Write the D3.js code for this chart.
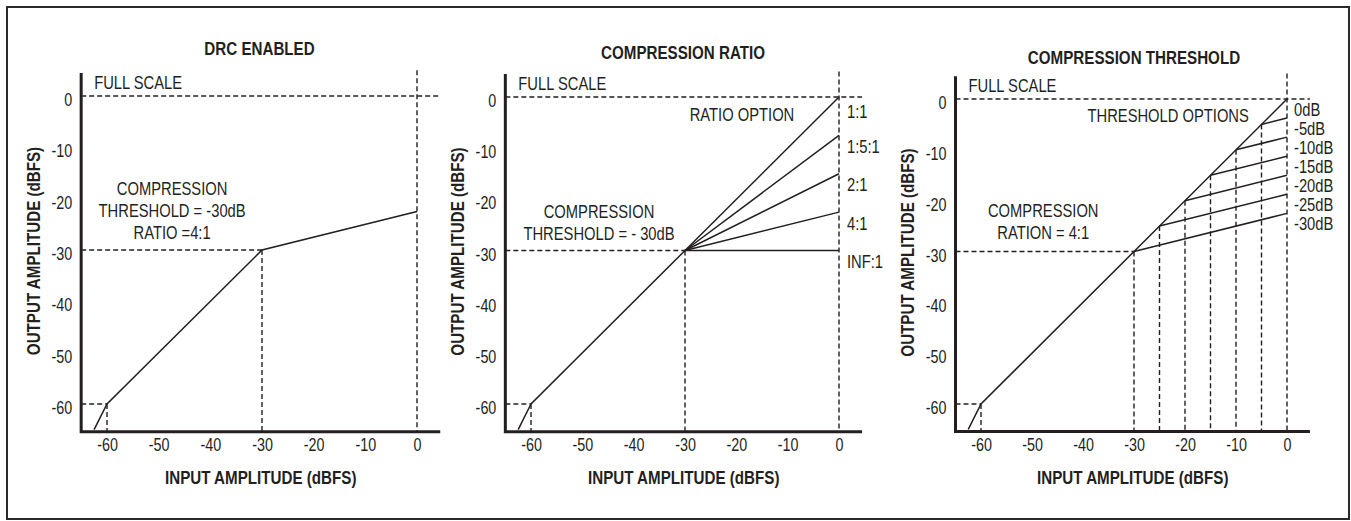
<!DOCTYPE html>
<html>
<head>
<meta charset="utf-8">
<script src="https://cdn.jsdelivr.net/npm/d3@7"></script>
<style>
  html, body { margin: 0; padding: 0; background: #fff; }
  svg { display: block; }
  text { font-family: "Liberation Sans Narrow", "Arial Narrow", "Liberation Sans", Arial, sans-serif; fill: #231f20; }
  .bold { font-weight: bold; }
</style>
</head>
<body>
<svg id="chart" width="1351" height="521"></svg>
<script>
// ---------------- DATA ----------------
const xTickValues = [-60, -50, -40, -30, -20, -10, 0];
const yTickValues = [0, -10, -20, -30, -40, -50, -60];

const panelTitles = ["DRC ENABLED", "COMPRESSION RATIO", "COMPRESSION THRESHOLD"];
const xAxisTitle = "INPUT AMPLITUDE (dBFS)";
const yAxisTitle = "OUTPUT AMPLITUDE (dBFS)";
const fullScaleLabel = "FULL SCALE";

// Panel 1: DRC transfer curve (input, output)
const drcInput  = [-62.5, -60, -30, 0];
const drcOutput = [-65,   -60, -30, -22.5];
const drcNote = ["COMPRESSION", "THRESHOLD = -30dB", "RATIO =4:1"];

// Panel 2: compression ratio options (all knee at -30 dB)
const ratioThreshold = -30;
const ratioLabels = ["1:1", "1:5:1", "2:1", "4:1", "INF:1"];
const ratioEndOutput = [0, -7.5, -15, -22.5, -30];
const ratioNote = ["COMPRESSION", "THRESHOLD = - 30dB"];
const ratioHeader = "RATIO OPTION";

// Panel 3: threshold options (ratio 4:1)
const thresholdLabels = ["0dB", "-5dB", "-10dB", "-15dB", "-20dB", "-25dB", "-30dB"];
const thresholdValues = [0, -5, -10, -15, -20, -25, -30];
const thresholdEndOutput = [0, -3.75, -7.5, -11.25, -15, -18.75, -22.5];
const thresholdNote = ["COMPRESSION", "RATION = 4:1"];
const thresholdHeader = "THRESHOLD OPTIONS";

// Shared below-threshold segment (expander region + 1:1 region)
const lowInput  = [-62.5, -60, -30];
const lowOutput = [-65,   -60, -30];

// ---------------- LAYOUT ----------------
const INK = "#231f20";
const NARROW = 0.82;
const svg = d3.select("#chart");

svg.append("rect")
  .attr("x", 7).attr("y", 7).attr("width", 1342).attr("height", 512)
  .attr("fill", "none").attr("stroke", "#2a2a2a").attr("stroke-width", 2);

const panels = [
  { xr: [107, 417], yr: [404, 96], title: [259.5, 48] },
  { xr: [531, 839], yr: [404, 97], title: [683, 52] },
  { xr: [981, 1287], yr: [404, 99], title: [1134, 57] }
];

const X_MIN = -65, X_MAX = 4.5, Y_MIN = -65.4, Y_MAX = 4.5, V_TOP = 5;

function addText(g, x, y, str, size, anchor, bold, rotate) {
  return g.append("text")
    .attr("class", bold ? "bold" : null)
    .attr("transform", `translate(${x},${y})${rotate ? ` rotate(${rotate})` : ""} scale(${NARROW},1)`)
    .attr("text-anchor", anchor || "start")
    .attr("font-size", size)
    .text(str);
}

function makePanel(p, idx) {
  const x = d3.scaleLinear().domain([-60, 0]).range(p.xr);
  const y = d3.scaleLinear().domain([-60, 0]).range(p.yr);
  const g = svg.append("g");

  // title
  addText(g, p.title[0], p.title[1] + 6.5, panelTitles[idx], 18.5, "middle", true);

  // axis titles
  addText(g, (x(-65) + x(4.5)) / 2, 483.5, xAxisTitle, 18.5, "middle", true);
  addText(g, x(-65) - 41.5, y(-30) + 1, yAxisTitle, 18.5, "middle", true, -90);

  // ticks via d3 axes
  const fmt = d => String(d);
  const xAxis = d3.axisBottom(x).tickValues(xTickValues).tickSize(0).tickPadding(7).tickFormat(fmt);
  const yAxis = d3.axisLeft(y).tickValues(yTickValues).tickSize(0).tickPadding(9).tickFormat(fmt);
  const gx = g.append("g").attr("transform", `translate(0,${y(Y_MIN)})`).call(xAxis);
  const gy = g.append("g").attr("transform", `translate(${x(X_MIN)},0)`).call(yAxis);
  [gx, gy].forEach(a => {
    a.select(".domain").remove();
    a.attr("font-family", null).attr("font-size", null);
    a.selectAll("text").attr("font-size", 17.5).style("fill", INK)
      .attr("transform", `scale(${NARROW},1)`);
  });
  gy.selectAll("text").attr("x", -9 / NARROW).attr("dy", "0.55em");

  const dash = "5,3";
  const dashed = (x1, y1, x2, y2) => g.append("line")
    .attr("x1", x1).attr("y1", y1).attr("x2", x2).attr("y2", y2)
    .attr("stroke", INK).attr("stroke-width", 1.4).attr("stroke-dasharray", dash);

  // full scale dashed lines
  dashed(x(X_MIN), y(0), x(X_MAX), y(0));
  dashed(x(0), y(V_TOP), x(0), y(Y_MIN));
  // -60 guides
  dashed(x(X_MIN), y(-60), x(-60), y(-60));
  dashed(x(-60), y(-60), x(-60), y(Y_MIN));
  // -30 guides
  dashed(x(X_MIN), y(-30), x(-30), y(-30));
  dashed(x(-30), y(-30), x(-30), y(Y_MIN));

  addText(g, x(X_MIN) + 13, y(0) - 7, fullScaleLabel, 18);

  const line = d3.line().x(d => x(d[0])).y(d => y(d[1]));
  const solid = pts => g.append("path").attr("d", line(pts))
    .attr("fill", "none").attr("stroke", INK).attr("stroke-width", 1.5)
    .attr("stroke-linejoin", "miter");

  const note = (lines, cx, cy) => lines.forEach((t, i) =>
    addText(g, x(cx), y(cy) + 6.5 + i * 22, t, 18, "middle"));

  if (idx === 0) {
    solid(drcInput.map((v, i) => [v, drcOutput[i]]));
    note(drcNote, -47.4, -18.1);
  } else if (idx === 1) {
    solid(lowInput.map((v, i) => [v, lowOutput[i]]));
    ratioEndOutput.forEach((e, i) => {
      solid([[ratioThreshold, ratioThreshold], [0, e]]);
      addText(g, x(0) + 8, y(e) + (i === 0 ? 14 : 11) + 6.5, ratioLabels[i], 18);
    });
    addText(g, x(-18.9), y(-3.5) + 6.5, ratioHeader, 18, "middle");
    note(ratioNote, -46.75, -22.3);
  } else {
    solid(lowInput.map((v, i) => [v, lowOutput[i]]).concat([[0, 0]]));
    thresholdValues.forEach((t, i) => {
      if (t < 0) {
        solid([[t, t], [0, thresholdEndOutput[i]]]);
        if (t > -30) dashed(x(t), y(t), x(t), y(Y_MIN));
      }
      addText(g, x(0) + 7, y(thresholdEndOutput[i]) + 10 + 6.5, thresholdLabels[i], 18);
    });
    addText(g, x(-23.3), y(-3.15) + 6.5, thresholdHeader, 18, "middle");
    note(thresholdNote, -47.8, -22.0);
  }

  // thick axes
  g.append("path")
    .attr("d", `M${x(X_MIN)},${y(Y_MAX)}V${y(Y_MIN)}H${x(X_MAX)}`)
    .attr("fill", "none").attr("stroke", INK).attr("stroke-width", 3);
}

panels.forEach(makePanel);
</script>
</body>
</html>
